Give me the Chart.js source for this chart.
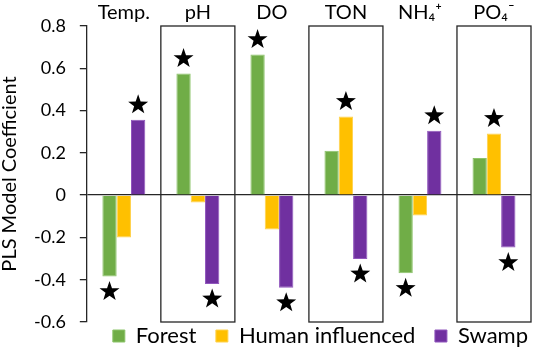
<!DOCTYPE html>
<html>
<head>
<meta charset="utf-8">
<script src="https://cdn.jsdelivr.net/npm/chart.js@4"></script>
<style>
  body { margin: 0; background: #fff; }
  #wrap { width: 536px; height: 350px; }
</style>
</head>
<body>
<div id="wrap"><canvas id="barChart"></canvas></div>
<script>
// categories and values
var categories = ['Temp.', 'pH', 'DO', 'TON', 'NH\u2084\u207A', 'PO\u2084\u207B'];
var forest = [-0.385, 0.575, 0.665, 0.21, -0.37, 0.176];
var human = [-0.2, -0.035, -0.163, 0.372, -0.096, 0.292];
var swamp = [0.356, -0.42, -0.438, -0.302, 0.305, -0.248];
// significance stars (1 = star)
var forestStar = [1, 1, 1, 0, 1, 0];
var humanStar = [0, 0, 0, 1, 0, 1];
var swampStar = [1, 1, 1, 1, 1, 1];
// categories drawn inside a box
var boxed = [0, 1, 0, 1, 0, 1];
var yTicks = [-0.6, -0.4, -0.2, 0, 0.2, 0.4, 0.6, 0.8];

var stars = [forestStar, humanStar, swampStar];
var fontFam = 'Lato, "Open Sans", sans-serif';

function drawStar(c, x, y, r) {
    c.beginPath();
    for (var k = 0; k < 10; k++) {
        var rad = k % 2 === 0 ? r : r * 0.4;
        var a = -Math.PI / 2 + k * Math.PI / 5;
        var px = x + rad * Math.cos(a), py = y + rad * Math.sin(a);
        if (k === 0) c.moveTo(px, py); else c.lineTo(px, py);
    }
    c.closePath();
    c.fillStyle = '#000';
    c.fill();
}

var boxPlugin = {
    id: 'boxes',
    beforeDatasetsDraw: function (chart) {
        var c = chart.ctx, xs = chart.scales.x, ys = chart.scales.y;
        var w = (xs.right - xs.left) / categories.length;
        c.save();
        c.strokeStyle = '#262626';
        c.lineWidth = 1.3;
        for (var j = 0; j < categories.length; j++) {
            if (!boxed[j]) continue;
            var x0 = xs.getPixelForValue(j) - w / 2;
            var top = ys.getPixelForValue(0.8), bot = ys.getPixelForValue(-0.6);
            c.strokeRect(x0, top, w, bot - top);
        }
        c.restore();
    }
};

var starPlugin = {
    id: 'stars',
    afterDatasetsDraw: function (chart) {
        var c = chart.ctx;
        c.save();
        for (var i = 0; i < 3; i++) {
            var meta = chart.getDatasetMeta(i);
            var vals = chart.data.datasets[i].data;
            for (var j = 0; j < vals.length; j++) {
                if (!stars[i][j]) continue;
                var bar = meta.data[j];
                var dir = vals[j] >= 0 ? -1 : 1;
                drawStar(c, bar.x, bar.y + dir * 15, 10.5);
            }
        }
        c.restore();
    }
};

var ctx = document.getElementById('barChart').getContext('2d');
var myChart = new Chart(ctx, {
    type: 'bar',
    data: {
        labels: categories,
        datasets: [
            { label: 'Forest', data: forest, backgroundColor: '#70AD47', borderColor: '#8cc46a', borderWidth: 1 },
            { label: 'Human influenced', data: human, backgroundColor: '#FFC000', borderColor: '#ffd24d', borderWidth: 1 },
            { label: 'Swamp', data: swamp, backgroundColor: '#7030A0', borderColor: '#9157bd', borderWidth: 1 }
        ]
    },
    options: {
        responsive: true,
        maintainAspectRatio: false,
        animation: false,
        layout: { padding: { left: 0, right: 5, top: 0, bottom: -7 } },
        datasets: { bar: { categoryPercentage: 0.58, barPercentage: 1.0 } },
        plugins: {
            legend: {
                position: 'bottom',
                align: 'end',
                labels: {
                    boxWidth: 12, boxHeight: 12, padding: 3,
                    color: '#000', font: { family: fontFam, size: 22, lineHeight: 1.0 },
                    generateLabels: function (chart) {
                        var items = Chart.defaults.plugins.legend.labels.generateLabels(chart);
                        // wider gap between items, like the original
                        items.forEach(function (it, i) {
                            if (i < items.length - 1) it.text += '\u2003';
                        });
                        return items;
                    }
                }
            },
            tooltip: { enabled: false }
        },
        scales: {
            x: {
                position: 'top',
                grid: { display: false, drawTicks: false },
                border: { display: false },
                ticks: { color: '#000', font: { family: fontFam, size: 20 }, padding: 1 }
            },
            y: {
                min: -0.6, max: 0.8,
                afterBuildTicks: function (axis) {
                    axis.ticks = yTicks.map(function (v) { return { value: v }; });
                },
                grid: {
                    color: function (c) { return c.tick && c.tick.value === 0 ? '#262626' : 'rgba(0,0,0,0)'; },
                    tickColor: '#262626',
                    tickLength: 7,
                    lineWidth: 1.3
                },
                border: { color: '#262626', width: 1.3 },
                ticks: {
                    color: '#000', font: { family: fontFam, size: 18 }, padding: 14,
                    callback: function (v) { return Math.abs(v) < 1e-9 ? '0' : String(Math.round(v * 10) / 10); }
                },
                title: {
                    display: true, text: 'PLS Model Coefficient', color: '#000',
                    font: { family: fontFam, size: 20, lineHeight: 1.0 }, padding: 0
                }
            }
        }
    },
    plugins: [boxPlugin, starPlugin]
});
</script>
</body>
</html>
